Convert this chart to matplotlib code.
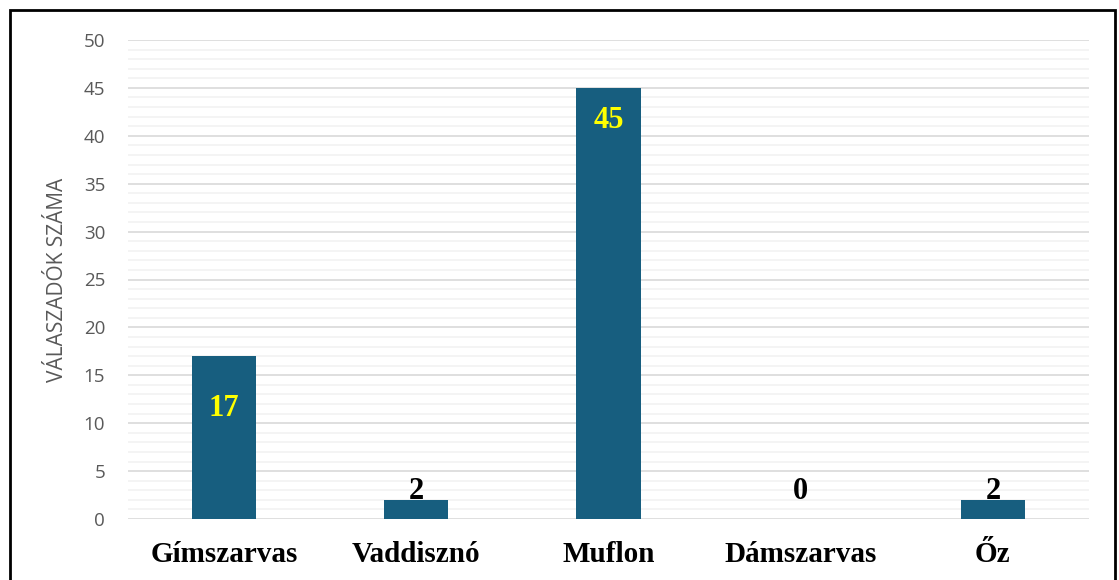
import matplotlib.pyplot as plt
import numpy as np
from matplotlib.patches import Rectangle

categories = ['Gímszarvas', 'Vaddisznó', 'Muflon', 'Dámszarvas', 'Őz']
values = [17, 2, 45, 0, 2]
label_colors = ['#FFFF00', 'black', '#FFFF00', 'black', 'black']
# where the value labels sit (data units), as placed in the original chart
label_y = [11.5, 2.9, 41.6, 2.9, 2.9]

bar_color = '#175E7F'

fig = plt.figure(figsize=(11.19, 5.8), dpi=100)
ax = fig.add_axes([128 / 1119, 61 / 580, (1089 - 128) / 1119, (519 - 40) / 580])

x = np.arange(len(categories))
ax.bar(x, values, width=0.333, color=bar_color, zorder=3)

ax.set_xlim(-0.5, len(categories) - 0.5)
ax.set_ylim(0, 50)
ax.set_yticks(np.arange(0, 51, 5))
ax.set_yticks(np.arange(0, 51, 1), minor=True)
ax.grid(axis='y', which='major', color='#D9D9D9', linewidth=1.2, zorder=0)
ax.grid(axis='y', which='minor', color='#F2F2F2', linewidth=1.2, zorder=0)
ax.tick_params(axis='y', which='both', length=0, labelsize=13.5, labelcolor='#595959', pad=16.5)
ax.tick_params(axis='y', which='minor', labelleft=False)
ax.set_xticks(x)
ax.set_xticklabels(categories, fontfamily='Liberation Serif', fontweight='bold', fontsize=21)
ax.tick_params(axis='x', length=0, pad=16)
for lbl in ax.get_yticklabels():
    lbl.set_fontfamily('Open Sans')
for s in ax.spines.values():
    s.set_visible(False)

ax.set_ylabel('VÁLASZADÓK SZÁMA', fontfamily='Open Sans',
              fontsize=15, color='#595959', labelpad=11)

for xi, v, c, ly in zip(x, values, label_colors, label_y):
    ax.text(xi, ly, str(v), ha='center', va='center', color=c,
            fontfamily='Liberation Serif', fontweight='bold', fontsize=22, zorder=4)

fig.patches.append(Rectangle((10 / 1119, -0.05), 1105 / 1119, (570 / 580) + 0.05, transform=fig.transFigure,
                             fill=False, edgecolor='black', linewidth=2))

fig.savefig('out.png', dpi=100)
